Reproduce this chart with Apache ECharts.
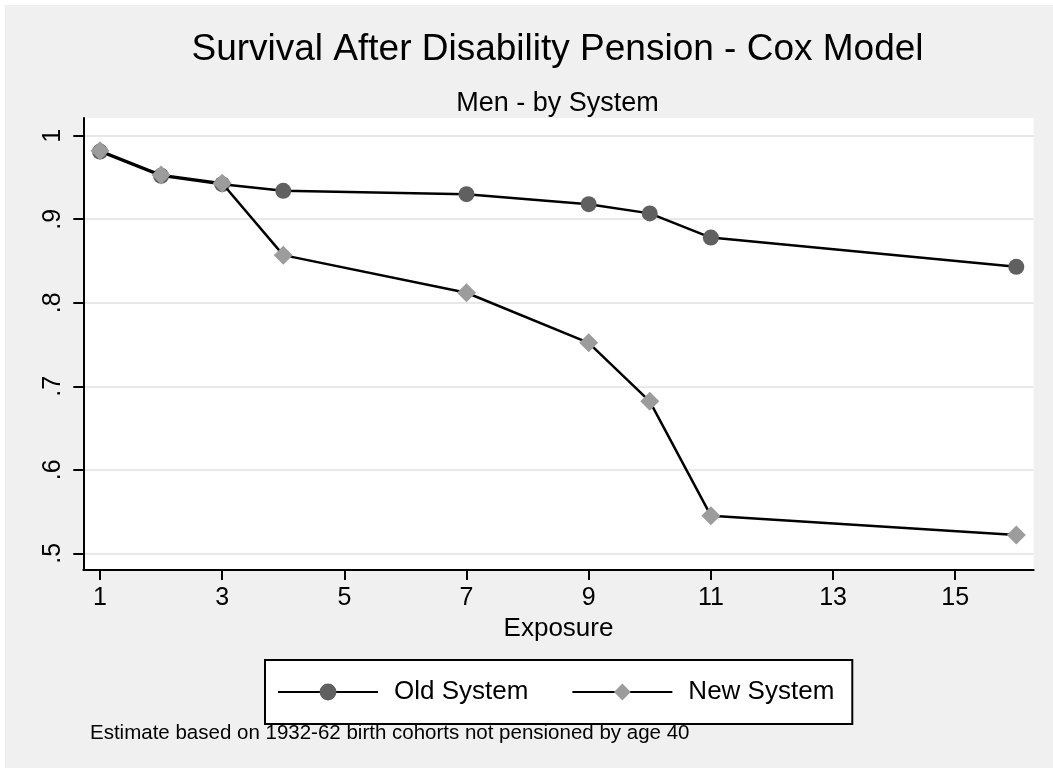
<!DOCTYPE html>
<html>
<head>
<meta charset="utf-8">
<script src="https://cdn.jsdelivr.net/npm/echarts@6/dist/echarts.min.js"></script>
<style>
  html, body { margin: 0; padding: 0; background: #ffffff; }
  #chart { position: absolute; left: 5px; top: 5px; width: 1048px; height: 763px; }
</style>
</head>
<body>
<div id="chart"></div>
<script>
// ---- data ----
const exposure = [1, 2, 3, 4, 7, 9, 10, 11, 16];
const oldSystem = [0.981, 0.952, 0.942, 0.934, 0.930, 0.918, 0.907, 0.878, 0.843];
const newSystem = [0.982, 0.953, 0.943, 0.857, 0.812, 0.752, 0.682, 0.545, 0.522];
const xTicks = [1, 3, 5, 7, 9, 11, 13, 15];
const yTicks = [0.5, 0.6, 0.7, 0.8, 0.9, 1];
const seriesNames = ['Old System', 'New System'];

const FONT = '"Liberation Sans", Arial, sans-serif';
const chart = echarts.init(document.getElementById('chart'), null, { renderer: 'canvas' });

function pairs(xs, ys) { return xs.map((x, i) => [x, ys[i]]); }

const option = {
  backgroundColor: '#f0f0f0',
  animation: false,
  textStyle: { fontFamily: FONT },
  title: [
    { text: 'Survival After Disability Pension - Cox Model', left: 552.5, top: 26, textAlign: 'center', padding: 0,
      textStyle: { fontFamily: FONT, fontSize: 37, fontWeight: 'normal', color: '#000' } },
    { text: 'Men - by System', left: 552.5, top: 85, textAlign: 'center', padding: 0,
      textStyle: { fontFamily: FONT, fontSize: 27, fontWeight: 'normal', color: '#000' } },
    { text: 'Estimate based on 1932-62 birth cohorts not pensioned by age 40', left: 85, top: 718, padding: 0,
      textStyle: { fontFamily: FONT, fontSize: 20.5, fontWeight: 'normal', color: '#000' } }
  ],
  legend: {
    data: seriesNames,
    left: 260, top: 655,
    orient: 'horizontal',
    backgroundColor: '#ffffff',
    borderColor: '#000', borderWidth: 2, borderRadius: 0,
    padding: [19, 18, 19, 12],
    itemWidth: 100, itemHeight: 21, itemGap: 43,
    textStyle: { fontFamily: FONT, fontSize: 26, color: '#000', lineHeight: 24, padding: [0, 0, 0, 11] }
  },
  grid: {
    left: 78.3, right: 19.3, top: 113, bottom: 198,
    show: true, backgroundColor: '#ffffff', borderWidth: 0
  },
  xAxis: {
    type: 'value', min: 0.7266, max: 16.285,
    name: 'Exposure', nameLocation: 'middle', nameGap: 46,
    nameTextStyle: { fontFamily: FONT, fontSize: 26, color: '#000' },
    axisLine: { show: true, onZero: false, lineStyle: { color: '#000', width: 2 } },
    axisTick: { show: true, length: 10, lineStyle: { color: '#000', width: 2 }, customValues: xTicks },
    axisLabel: { customValues: xTicks, fontFamily: FONT, fontSize: 25, color: '#000', margin: 16 },
    splitLine: { show: false }
  },
  yAxis: {
    type: 'value', min: 0.48, max: 1.0212,
    axisLine: { show: true, onZero: false, lineStyle: { color: '#000', width: 2 } },
    axisTick: { show: true, length: 10, lineStyle: { color: '#000', width: 2 }, customValues: yTicks },
    axisLabel: { customValues: yTicks, rotate: 90, fontFamily: FONT, fontSize: 25, color: '#000', margin: 18,
      formatter: v => (Math.abs(v - 1) < 1e-9 ? '1' : String(Math.round(v * 10) / 10).replace(/^0/, '')) },
    splitLine: { show: true, lineStyle: { color: '#e8e8e8', width: 2 } }
  },
  series: [
    { name: seriesNames[0], type: 'line', data: pairs(exposure, oldSystem),
      symbol: 'circle', symbolSize: 16, z: 2,
      lineStyle: { color: '#000', width: 2.5 },
      itemStyle: { color: '#606060', borderWidth: 0 } },
    { name: seriesNames[1], type: 'line', data: pairs(exposure, newSystem),
      symbol: 'diamond', symbolSize: 19, z: 3,
      lineStyle: { color: '#000', width: 2.5 },
      itemStyle: { color: '#9c9c9c', borderWidth: 0 } }
  ]
};
chart.setOption(option);
</script>
</body>
</html>
